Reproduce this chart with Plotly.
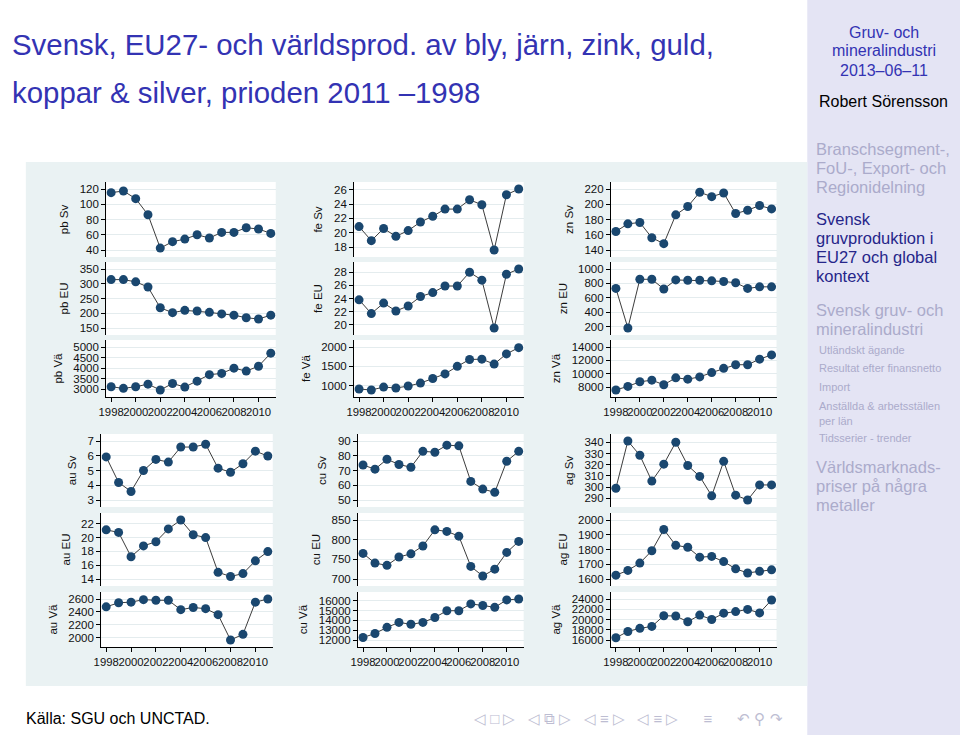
import plotly.graph_objects as go

W, H = 960, 735

years = list(range(1998, 2012))
x_tick_vals = [1998, 2000, 2002, 2004, 2006, 2008, 2010]

# ---- data ----
pb_sv = [115.2, 117.4, 107.3, 86.3, 42.5, 50.9, 54.3, 60.0, 55.7, 63.1, 63.1, 69.2, 67.5, 61.8]
pb_eu = [314, 314, 306.5, 289, 218.5, 202, 209.8, 207.6, 203, 197.8, 193.5, 184.8, 180.4, 193.5]
pb_va = [3123, 3046, 3123, 3246, 2969, 3277, 3108, 3385, 3692, 3754, 4000, 3862, 4092, 4708]

fe_sv = [20.86, 18.9, 20.6, 19.5, 20.3, 21.5, 22.3, 23.3, 23.3, 24.6, 23.9, 17.6, 25.3, 26.1]
fe_eu = [23.8, 21.7, 23.3, 22.1, 22.85, 24.3, 24.9, 25.9, 25.9, 28.0, 26.8, 19.5, 27.7, 28.5]
fe_va = [915, 890, 966, 941, 992, 1068, 1186, 1305, 1500, 1678, 1686, 1559, 1822, 1983]

zn_sv = [164.3, 174.3, 176.1, 156.1, 148.3, 186.1, 197.0, 215.7, 210, 214.8, 187.8, 192.2, 198.3, 193.9]
zn_eu = [730, 180, 857, 857, 722, 848, 843, 843, 835, 826, 809, 730, 752, 752]
zn_va = [7610, 8146, 8829, 9073, 8390, 9415, 9220, 9560, 10195, 10829, 11366, 11366, 12195, 12829]

au_sv = [5.92, 4.19, 3.58, 5.0, 5.75, 5.57, 6.59, 6.59, 6.78, 5.16, 4.88, 5.46, 6.31, 5.98]
au_eu = [21.12, 20.75, 17.23, 18.8, 19.4, 21.26, 22.55, 20.42, 20.0, 14.97, 14.37, 14.78, 16.63, 17.97]
au_va = [2478, 2541, 2551, 2590, 2580, 2580, 2434, 2468, 2449, 2356, 1961, 2049, 2551, 2600]

cu_sv = [73.7, 70.9, 77.6, 74.1, 72.2, 83.0, 82.4, 87.2, 86.7, 62.6, 57.4, 55.2, 76.3, 83.0]
cu_eu = [765, 740.4, 734.7, 756, 764, 784, 825, 821, 809, 732, 707.5, 725, 767.6, 795.6]
cu_va = [12252, 12661, 13291, 13795, 13606, 13795, 14299, 14992, 14992, 15685, 15528, 15339, 16094, 16189]

ag_sv = [299.1, 341.1, 328.4, 305.4, 320.5, 340, 319.3, 309.6, 292.3, 323, 292.9, 288.6, 302, 302]
ag_eu = [1626, 1658, 1708, 1791.6, 1935.5, 1828, 1815, 1748, 1753, 1718, 1669, 1641, 1652, 1662]
ag_va = [16431, 17662, 18277, 18646, 20738, 20677, 19569, 20862, 20000, 21231, 21538, 21969, 21292, 23815]

# y tick values per panel
pb_sv_ticks = [40, 60, 80, 100, 120]
pb_eu_ticks = [150, 200, 250, 300, 350]
pb_va_ticks = [3000, 3500, 4000, 4500, 5000]
fe_sv_ticks = [18, 20, 22, 24, 26]
fe_eu_ticks = [20, 22, 24, 26, 28]
fe_va_ticks = [1000, 1500, 2000]
zn_sv_ticks = [140, 160, 180, 200, 220]
zn_eu_ticks = [200, 400, 600, 800, 1000]
zn_va_ticks = [8000, 10000, 12000, 14000]
au_sv_ticks = [3, 4, 5, 6, 7]
au_eu_ticks = [14, 16, 18, 20, 22]
au_va_ticks = [2000, 2200, 2400, 2600]
cu_sv_ticks = [50, 60, 70, 80, 90]
cu_eu_ticks = [700, 750, 800, 850]
cu_va_ticks = [12000, 13000, 14000, 15000, 16000]
ag_sv_ticks = [290, 300, 310, 320, 330, 340]
ag_eu_ticks = [1600, 1700, 1800, 1900, 2000]
ag_va_ticks = [16000, 18000, 20000, 22000, 24000]

groups = [
    ("pb", [pb_sv, pb_eu, pb_va], [pb_sv_ticks, pb_eu_ticks, pb_va_ticks]),
    ("fe", [fe_sv, fe_eu, fe_va], [fe_sv_ticks, fe_eu_ticks, fe_va_ticks]),
    ("zn", [zn_sv, zn_eu, zn_va], [zn_sv_ticks, zn_eu_ticks, zn_va_ticks]),
    ("au", [au_sv, au_eu, au_va], [au_sv_ticks, au_eu_ticks, au_va_ticks]),
    ("cu", [cu_sv, cu_eu, cu_va], [cu_sv_ticks, cu_eu_ticks, cu_va_ticks]),
    ("ag", [ag_sv, ag_eu, ag_va], [ag_sv_ticks, ag_eu_ticks, ag_va_ticks]),
]
row_names = ["Sv", "EU", "Vä"]

# ---- layout geometry (pixels) ----
col_x = [(99, 270), (349, 520), (608, 775), (94, 267), (353, 520), (608, 775)]
top_rows = [(182, 257), (262, 335), (340, 397)]
bot_rows = [(434, 507), (513, 586), (592, 647)]

FONT = "Liberation Sans, Arial, Helvetica, sans-serif"
NAVY = "#1A476F"
GRAPH_BG = "#EAF2F3"
GRID = "#E4ECEE"

fig = go.Figure()
layout = {}
k = 0
for gi, (name, series, ticks) in enumerate(groups):
    x0, x1 = col_x[gi]
    rows = top_rows if gi < 3 else bot_rows
    for ri in range(3):
        k += 1
        y0, y1 = rows[ri]
        vals = series[ri]
        tv = ticks[ri]
        lo = min(min(vals), min(tv))
        hi = max(max(vals), max(tv))
        hpx = (y1 - y0)
        pady = 7
        span = (hi - lo) / (hpx - 2 * pady)
        yr = [lo - pady * span, hi + pady * span]
        wpx = x1 - x0
        padx = 5
        xs = 13 / (wpx - 2 * padx)
        xr = [1998 - padx * xs, 2011 + padx * xs]
        xa = "x" if k == 1 else f"x{k}"
        ya = "y" if k == 1 else f"y{k}"
        fig.add_trace(go.Scatter(
            x=years, y=vals, xaxis=xa, yaxis=ya, mode="lines+markers",
            line=dict(color="#3c3c3c", width=1),
            marker=dict(color=NAVY, size=9, line=dict(width=0)),
            showlegend=False, hoverinfo="skip"))
        bottom = ri == 2
        layout[f"xaxis{k}"] = dict(
            domain=[x0 / W, x1 / W], anchor=ya, range=xr,
            showgrid=False, zeroline=False,
            showline=bottom, linecolor="#000000", linewidth=1,
            ticks="outside" if bottom else "", ticklen=4, tickcolor="#000000",
            tickvals=x_tick_vals, showticklabels=bottom, tickangle=0,
            tickformat="d",
            tickfont=dict(family=FONT, size=11.3, color="#111111"),
        )
        layout[f"yaxis{k}"] = dict(
            domain=[1 - y1 / H, 1 - y0 / H], anchor=xa, range=yr,
            showgrid=True, gridcolor=GRID, gridwidth=1, zeroline=False,
            showline=True, linecolor="#000000", linewidth=1,
            ticks="outside", ticklen=4, tickcolor="#000000",
            tickvals=tv, tickformat="d",
            tickfont=dict(family=FONT, size=11.5, color="#111111"),
            title=dict(text=f"{name} {row_names[ri]}", standoff=8,
                       font=dict(family=FONT, size=11.5, color="#111111")),
        )

layout["xaxis"] = layout.pop("xaxis1")
layout["yaxis"] = layout.pop("yaxis1")

shapes = [
    dict(type="rect", xref="paper", yref="paper", x0=806 / W, x1=1, y0=0, y1=1,
         fillcolor="#E4E4F4", line=dict(width=0), layer="below"),
    dict(type="rect", xref="paper", yref="paper", x0=18 / W, x1=806 / W,
         y0=1 - 686 / H, y1=1 - 162 / H,
         fillcolor=GRAPH_BG, line=dict(width=0), layer="below"),
]
# white plot areas behind each subplot
for gi in range(6):
    x0, x1 = col_x[gi]
    rows = top_rows if gi < 3 else bot_rows
    for (y0, y1) in rows:
        shapes.append(dict(type="rect", xref="paper", yref="paper",
                           x0=x0 / W, x1=x1 / W, y0=1 - y1 / H, y1=1 - y0 / H,
                           fillcolor="white", line=dict(width=0), layer="below"))

TITLE = "#3333B3"
annotations = []


def txt(s, x, y, size, color, anchor="left"):
    annotations.append(dict(text=s, x=x / W, y=1 - y / H, xref="paper", yref="paper",
                            xanchor=anchor, yanchor="middle", showarrow=False,
                            font=dict(family=FONT, size=size, color=color)))


txt("Svensk, EU27- och världsprod. av bly, järn, zink, guld,", 2, 45, 29.4, TITLE)
txt("koppar &amp; silver, prioden 2011 –1998", 2, 93, 29.4, TITLE)
txt("Källa: SGU och UNCTAD.", 16, 718, 16, "#000000")
txt("◁ □ ▷   ◁ ⧉ ▷   ◁ ≡ ▷   ◁ ≡ ▷      ≡      ↶ ⚲ ↷", 468, 718, 15, "#BDBDD2")

# sidebar
txt("Gruv- och", 883, 32, 16, TITLE, "center")
txt("mineralindustri", 883, 51, 16, TITLE, "center")
txt("2013–06–11", 883, 70, 16, TITLE, "center")
txt("Robert Sörensson", 883, 101, 16, "#000000", "center")
GRAYTXT = "#ABABCB"
CUR = "#26268A"
for s, y in [("Branschsegment-,", 149), ("FoU-, Export- och", 168), ("Regionidelning", 187)]:
    txt(s, 813, y, 16.5, GRAYTXT)
for s, y in [("Svensk", 219), ("gruvproduktion i", 238), ("EU27 och global", 257), ("kontext", 276)]:
    txt(s, 813, y, 16.5, CUR)
for s, y in [("Svensk gruv- och", 310), ("mineralindustri", 329)]:
    txt(s, 813, y, 16.5, GRAYTXT)
for s, y in [("Utländskt ägande", 350), ("Resultat efter finansnetto", 368), ("Import", 387),
             ("Anställda &amp; arbetsställen", 406), ("per län", 421), ("Tidsserier - trender", 438)]:
    txt(s, 816, y, 11, GRAYTXT)
for s, y in [("Världsmarknads-", 467), ("priser på några", 486), ("metaller", 505)]:
    txt(s, 813, y, 16.5, GRAYTXT)

fig.update_layout(
    width=W, height=H, margin=dict(l=0, r=0, t=0, b=0),
    paper_bgcolor="white", plot_bgcolor="rgba(0,0,0,0)",
    shapes=shapes, annotations=annotations,
    font=dict(family=FONT),
    **layout,
)

fig.write_html("out.html", config={"displayModeBar": False},
               post_script="document.body.style.margin='0';document.body.style.overflow='hidden';")
